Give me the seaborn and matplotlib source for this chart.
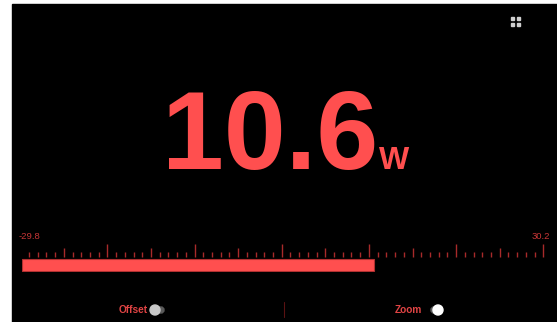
import matplotlib
matplotlib.use("Agg")
import matplotlib.pyplot as plt
import matplotlib.patches as mpatches
import seaborn as sns
import numpy as np
import pandas as pd

# ---- data ----
value = 10.6
unit = "W"
scale_min = -29.8
scale_max = 30.2
tick_values = list(range(-29, 31))
toggle_labels = ["Offset", "Zoom"]
toggle_states = [False, True]

sns.set_theme(style="dark")
plt.rcParams['font.family'] = ['Liberation Sans', 'DejaVu Sans']

W, H = 557, 322
fig = plt.figure(figsize=(W / 100, H / 100), dpi=100)
fig.patch.set_facecolor("white")

# overlay axes in pixel coordinates
bg = fig.add_axes([0, 0, 1, 1])
bg.set_xlim(0, W)
bg.set_ylim(H, 0)
bg.axis("off")
bg.add_patch(mpatches.Rectangle((12, 4), W - 12, H - 4, color="black", zorder=0))

RED = "#ff4f4f"
DARK = "#a82a2a"

# big value
bg.text(270, 169, f"{value:.1f}", color=RED, fontsize=80, fontweight="bold",
        ha="center", va="baseline", zorder=3)
bg.text(379, 169, unit, color=RED, fontsize=23, fontweight="bold",
        ha="left", va="baseline", zorder=3)

# min/max labels
bg.text(19, 236, f"{scale_min}", color="#c83636", fontsize=6.8, ha="left", va="center")
bg.text(550, 236, f"{scale_max}", color="#c83636", fontsize=6.8, ha="right", va="center")

# fullscreen icon (four small squares)
for (ix, iy) in [(510.5, 16.5), (516.5, 16.5), (510.5, 22.5), (516.5, 22.5)]:
    bg.add_patch(mpatches.Rectangle((ix, iy), 3.5, 3.5, color="#d0d0d0", zorder=3))

# divider
bg.plot([284, 284], [302, 317], color="#5a1212", lw=0.8)

# toggles
toggle_text_x = [148, 422]
track_x = [(150, 167), (428, 445)]
knob_x = [155, 438]
knob_col = ["#c8c8c8", "#ffffff"]
for lab, tx, (t0, t1), kx, kc in zip(toggle_labels, toggle_text_x, track_x, knob_x, knob_col):
    bg.text(tx, 310, lab, color="#e04444", fontsize=7.3, fontweight="bold",
            ha="right", va="center")
    bg.add_patch(mpatches.FancyBboxPatch((t0 + 3, 307), (t1 - t0) - 6, 6,
                 boxstyle="round,pad=0,rounding_size=3", color="#5a5a5a", zorder=3))
    bg.add_patch(mpatches.Circle((kx, 310), 5, color=kc, zorder=4))

# scale axes
ax = fig.add_axes([22 / W, (H - 272) / H, (545 - 22) / W, 29 / H])
ax.set_xlim(scale_min, scale_max)
ax.set_ylim(0, 1)
ax.axis("off")
ax.patch.set_alpha(0)

ticks = pd.DataFrame({"v": tick_values})
ticks["top"] = np.where(ticks.v % 10 == 0, 0.966,
                        np.where(ticks.v % 5 == 0, 0.83, 0.69))
ax.vlines(ticks.v, 0.517, ticks.top, color=DARK, lw=1.0)

ax.barh([0.241], [value - scale_min], left=scale_min, height=0.414,
        color=RED, edgecolor="#b03030", linewidth=0.8)

fig.savefig("out.png", dpi=100, facecolor=fig.get_facecolor())
